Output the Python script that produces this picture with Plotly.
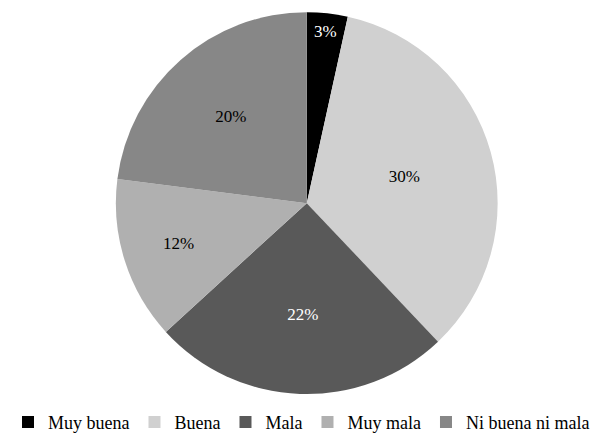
import plotly.graph_objects as go

labels = ["Muy buena", "Buena", "Mala", "Muy mala", "Ni buena ni mala"]
values = [3, 30, 22, 12, 20]
colors = ["#000000", "#d0d0d0", "#595959", "#b0b0b0", "#878787"]
text_colors = ["#ffffff", "#000000", "#ffffff", "#000000", "#000000"]

fig = go.Figure(
    go.Pie(
        labels=labels,
        values=values,
        text=[f"{v}%" for v in values],
        textinfo="text",
        textposition="inside",
        insidetextorientation="horizontal",
        textfont=dict(color=text_colors, size=17, family="Liberation Serif"),
        marker=dict(colors=colors, line=dict(width=0)),
        sort=False,
        direction="clockwise",
        rotation=0,
        domain=dict(x=[0.178, 0.808], y=[0.118, 0.991]),
        hoverinfo="label+text",
    )
)

fig.update_layout(
    width=606,
    height=438,
    margin=dict(l=0, r=0, t=0, b=0),
    paper_bgcolor="white",
    plot_bgcolor="white",
    font=dict(family="Liberation Serif", size=18, color="#000000"),
    showlegend=True,
    legend=dict(
        orientation="h",
        x=0.0,
        xanchor="left",
        y=0.012,
        yanchor="bottom",
        font=dict(size=18),
        itemwidth=30,
        tracegroupgap=0,
    ),
)

fig.write_html("out.html")
